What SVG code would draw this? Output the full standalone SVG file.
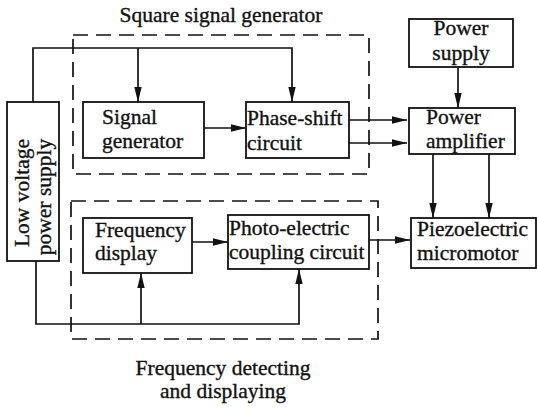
<svg xmlns="http://www.w3.org/2000/svg" width="537" height="408" viewBox="0 0 537 408">
<defs>
<style>
text{font-family:"Liberation Serif","Times New Roman",serif;font-size:21.5px;fill:#111;stroke:#111;stroke-width:0.35}
.box{fill:#fff;stroke:#111;stroke-width:1.8}
.dash{fill:none;stroke:#111;stroke-width:1.7;stroke-dasharray:15 8}
.ln{fill:none;stroke:#111;stroke-width:1.7}
.arr{marker-end:url(#ah)}
</style>
<marker id="ah" markerUnits="userSpaceOnUse" markerWidth="16" markerHeight="10" refX="15" refY="4" orient="auto">
<path d="M0,0.3 L15,4 L0,7.7 Z" fill="#111"/>
</marker>
</defs>
<rect width="537" height="408" fill="#fff"/>
<g id="groups">
<rect class="dash" x="73" y="35" width="296" height="139"/>
<rect class="dash" x="71" y="201" width="307" height="138"/>
<text x="221" y="22" text-anchor="middle">Square signal generator</text>
<text x="223" y="375" text-anchor="middle">Frequency detecting</text>
<text x="223" y="398" text-anchor="middle">and displaying</text>
</g>
<g id="connectors">
<path class="ln arr" d="M33,102 V48 H292 V102"/>
<path class="ln arr" d="M138,48 V102"/>
<path class="ln arr" d="M204,128 H246"/>
<path class="ln arr" d="M349,120 H407"/>
<path class="ln arr" d="M349,143 H407"/>
<path class="ln arr" d="M458,67 V108"/>
<path class="ln arr" d="M433,154 V218"/>
<path class="ln arr" d="M489,154 V218"/>
<path class="ln arr" d="M192,242 H228"/>
<path class="ln arr" d="M369,240 H410"/>
<path class="ln arr" d="M36,261 V324 H299 V269"/>
<path class="ln arr" d="M141,324 V273"/>
</g>
<g id="low-voltage">
<rect class="box" x="7" y="102" width="52" height="159"/>
<text transform="translate(29,193) rotate(-90)" text-anchor="middle">Low voltage</text>
<text transform="translate(51,197) rotate(-90)" text-anchor="middle">power supply</text>
</g>
<g id="signal-generator">
<rect class="box" x="83" y="102" width="121" height="56"/>
<text x="102" y="124">Signal</text>
<text x="102" y="148">generator</text>
</g>
<g id="phase-shift">
<rect class="box" x="246" y="102" width="103" height="56"/>
<text x="247" y="125">Phase-shift</text>
<text x="247" y="150">circuit</text>
</g>
<g id="power-supply">
<rect class="box" x="409" y="19" width="104" height="48"/>
<text x="461" y="35" text-anchor="middle">Power</text>
<text x="461" y="60" text-anchor="middle">supply</text>
</g>
<g id="power-amplifier">
<rect class="box" x="409" y="108" width="106" height="46"/>
<text x="426" y="124">Power</text>
<text x="426" y="148">amplifier</text>
</g>
<g id="piezo">
<rect class="box" x="411" y="218" width="125" height="50"/>
<text x="417" y="236">Piezoelectric</text>
<text x="417" y="260">micromotor</text>
</g>
<g id="frequency-display">
<rect class="box" x="83" y="218" width="109" height="55"/>
<text x="95" y="237">Frequency</text>
<text x="95" y="260">display</text>
</g>
<g id="photo-electric">
<rect class="box" x="228" y="215" width="141" height="54"/>
<text x="229" y="235">Photo-electric</text>
<text x="229" y="259">coupling circuit</text>
</g>
</svg>
